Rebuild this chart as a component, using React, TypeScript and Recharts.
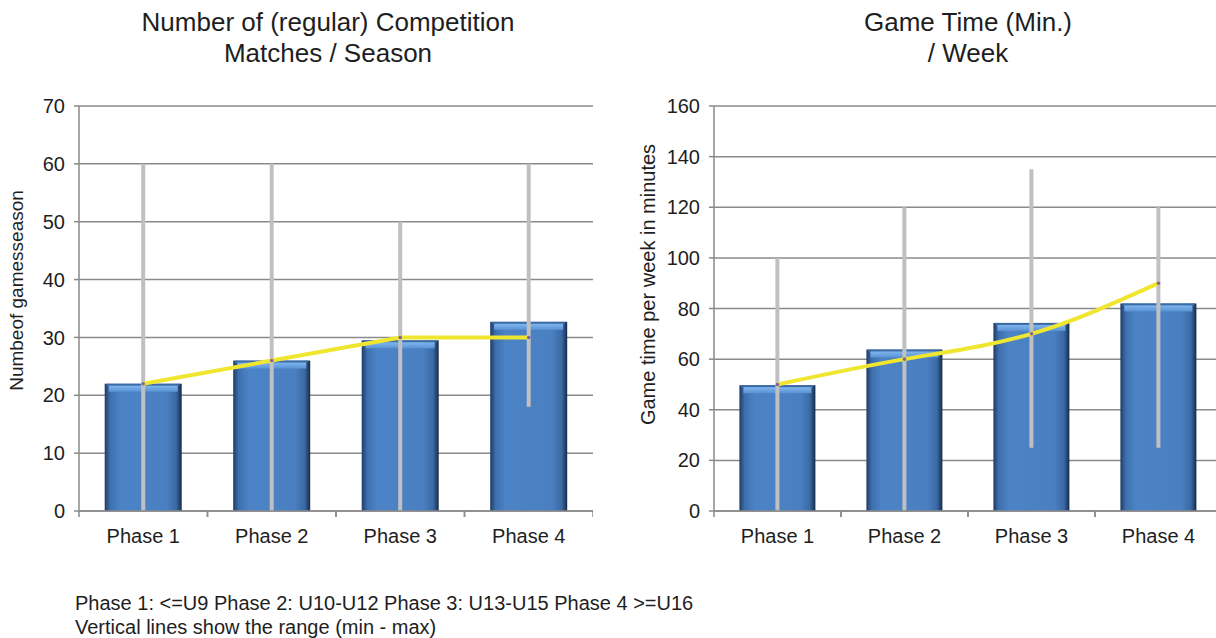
import React from "react";
import {
  ComposedChart,
  Bar,
  Line,
  XAxis,
  YAxis,
  CartesianGrid,
  Label,
} from "recharts";

const phases = ["Phase 1", "Phase 2", "Phase 3", "Phase 4"];

// left chart: competition matches per season
const matchesMean = [22, 26, 29.5, 32.7];
const matchesTrend = [22, 26, 30, 30];
const matchesMin = [0, 0, 0, 18];
const matchesMax = [60, 60, 50, 60];
const matchesTicks = [0, 10, 20, 30, 40, 50, 60, 70];

// right chart: game time (min) per week
const minutesMean = [49.7, 63.8, 74.3, 82];
const minutesTrend = [50, 60, 70, 90];
const minutesMin = [0, 0, 25, 25];
const minutesMax = [100, 120, 135, 120];
const minutesTicks = [0, 20, 40, 60, 80, 100, 120, 140, 160];

const matchesData = phases.map((name, i) => ({
  name,
  mean: matchesMean[i],
  trend: matchesTrend[i],
  min: matchesMin[i],
  max: matchesMax[i],
}));

const minutesData = phases.map((name, i) => ({
  name,
  mean: minutesMean[i],
  trend: minutesTrend[i],
  min: minutesMin[i],
  max: minutesMax[i],
}));

const FONT = "'Liberation Sans', Arial, sans-serif";
const TEXT = "#1e1e1e";
const GRID = "#8a8a8a";

function BlueBar(props: any) {
  const { x, y, width, height, gid } = props;
  if (!height || height <= 0) return null;
  return (
    <g>
      <rect x={x} y={y} width={width} height={height} fill={`url(#${gid})`} />
      <rect x={x + 2} y={y} width={width - 4} height={2} fill="#3c6aa3" />
      <rect x={x + 4} y={y + 2} width={width - 8} height={6} fill={`url(#${gid}-top)`} />
    </g>
  );
}

function RangeLine(props: any) {
  const { x, y, width, height } = props;
  if (height == null) return null;
  const cx = x + width / 2;
  return <line x1={cx} x2={cx} y1={y} y2={y + height} stroke="#c0c0c0" strokeWidth={4} />;
}

function PhaseTick(props: any) {
  const { x, y, payload } = props;
  const half = payload?.offset ?? 64;
  const axisY = y - 18;
  return (
    <g>
      <line x1={x - half} x2={x - half} y1={axisY} y2={axisY + 6} stroke={GRID} strokeWidth={1.5} />
      <line x1={x + half} x2={x + half} y1={axisY} y2={axisY + 6} stroke={GRID} strokeWidth={1.5} />
      <text x={x} y={y} dy="0.71em" textAnchor="middle" fill={TEXT} fontSize={20} fontFamily={FONT}>
        {payload.value}
      </text>
    </g>
  );
}

interface PanelProps {
  data: any[];
  width: number;
  axisWidth: number;
  domainMax: number;
  ticks: number[];
  yLabel: string;
  labelSize: number;
  labelOffset: number;
  labelDy: number;
  smooth: boolean;
  gid: string;
}

function Panel({ data, width, axisWidth, domainMax, ticks, yLabel, labelSize, labelOffset, labelDy, smooth, gid }: PanelProps) {
  return (
    <ComposedChart
      width={width}
      height={560}
      data={data}
      margin={{ top: 106, right: 0, left: 0, bottom: 19 }}
      barCategoryGap="20%"
    >
      <defs>
        <linearGradient id={gid} x1="0" y1="0" x2="1" y2="0">
          <stop offset="0%" stopColor="#1f3b63" />
          <stop offset="7%" stopColor="#3d6fae" />
          <stop offset="20%" stopColor="#4c83c6" />
          <stop offset="80%" stopColor="#4a80c2" />
          <stop offset="93%" stopColor="#3a68a3" />
          <stop offset="100%" stopColor="#152a47" />
        </linearGradient>
        <linearGradient id={`${gid}-top`} x1="0" y1="0" x2="0" y2="1">
          <stop offset="0%" stopColor="#7fb6ef" />
          <stop offset="100%" stopColor="#5a92d4" />
        </linearGradient>
      </defs>
      <CartesianGrid vertical={false} stroke={GRID} strokeWidth={1.5} />
      <XAxis
        dataKey="name"
        axisLine={{ stroke: GRID, strokeWidth: 1.5 }}
        tickLine={false}
        tickSize={6}
        tickMargin={12}
        tick={<PhaseTick />}
        interval={0}
      />
      <XAxis xAxisId="range" dataKey="name" hide />
      <YAxis
        width={axisWidth}
        domain={[0, domainMax]}
        ticks={ticks}
        interval={0}
        axisLine={{ stroke: GRID, strokeWidth: 1.5 }}
        tickLine={{ stroke: GRID, strokeWidth: 1.5 }}
        tickSize={5}
        tickMargin={9}
        tick={{ fill: TEXT, fontSize: 20, fontFamily: FONT }}
      >
        <Label
          value={yLabel}
          angle={-90}
          position="insideLeft"
          offset={labelOffset}
          dy={labelDy}
          style={{ textAnchor: "middle", fill: TEXT, fontSize: labelSize, fontFamily: FONT }}
        />
      </YAxis>
      <Bar dataKey="mean" shape={<BlueBar gid={gid} />} isAnimationActive={false} />
      <Line
        type={smooth ? "natural" : "linear"}
        dataKey="trend"
        stroke="#f0e630"
        strokeWidth={4}
        dot={{ r: 1.8, fill: "#8064a2", stroke: "none" }}
        activeDot={false}
        isAnimationActive={false}
      />
      <Bar
        xAxisId="range"
        dataKey={(d: any) => [d.min, d.max]}
        shape={<RangeLine />}
        isAnimationActive={false}
      />
    </ComposedChart>
  );
}

const titleStyle: React.CSSProperties = {
  position: "absolute",
  fontFamily: FONT,
  fontSize: 26,
  lineHeight: "31px",
  color: TEXT,
  whiteSpace: "nowrap",
  textAlign: "center",
};

export default function App() {
  return (
    <div
      style={{
        position: "absolute",
        left: 0,
        top: 0,
        width: 1216,
        height: 638,
        overflow: "hidden",
        background: "#fff",
      }}
    >
      <div style={{ ...titleStyle, left: 28, width: 600, top: 7 }}>
        <div>Number of (regular) Competition</div>
        <div>Matches / Season</div>
      </div>
      <div style={{ ...titleStyle, left: 768, width: 400, top: 7 }}>
        <div>Game Time (Min.)</div>
        <div>/ Week</div>
      </div>

      <div style={{ position: "absolute", left: 0, top: 0 }}>
        <Panel
          data={matchesData}
          width={593}
          axisWidth={79}
          domainMax={70}
          ticks={matchesTicks}
          yLabel="Numbeof gamesseason"
          labelSize={19}
          labelOffset={16}
          labelDy={-18}
          smooth={false}
          gid="barA"
        />
      </div>
      <div style={{ position: "absolute", left: 600, top: 0 }}>
        <Panel
          data={minutesData}
          width={622}
          axisWidth={114}
          domainMax={160}
          ticks={minutesTicks}
          yLabel="Game time per week in minutes"
          labelSize={20}
          labelOffset={48}
          labelDy={-24}
          smooth={true}
          gid="barB"
        />
      </div>

      <div
        style={{
          position: "absolute",
          left: 75,
          top: 591,
          fontFamily: FONT,
          fontSize: 20,
          lineHeight: "24px",
          color: TEXT,
          whiteSpace: "nowrap",
        }}
      >
        <div>Phase 1: &lt;=U9 Phase 2: U10-U12 Phase 3: U13-U15 Phase 4 &gt;=U16</div>
        <div>Vertical lines show the range (min - max)</div>
      </div>
    </div>
  );
}
